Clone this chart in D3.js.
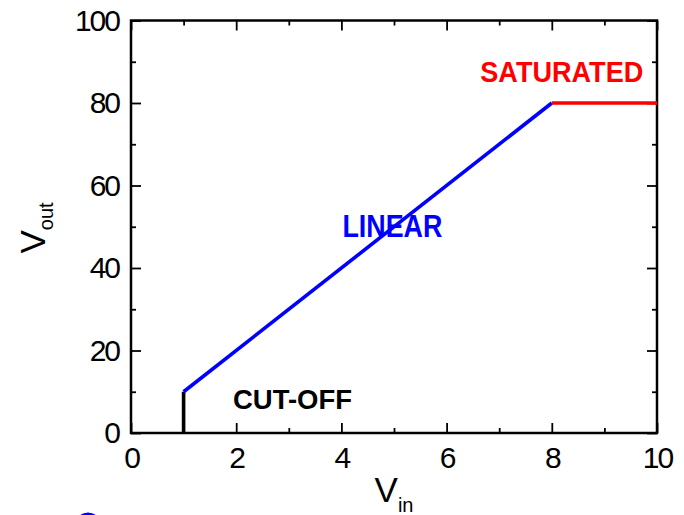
<!DOCTYPE html>
<html>
<head>
<meta charset="utf-8">
<script src="https://cdn.jsdelivr.net/npm/d3@7"></script>
<style>
  body { margin: 0; background: #fff; }
  svg { display: block; }
  text { font-family: "Liberation Sans", Arial, sans-serif; }
</style>
</head>
<body>
<svg width="684" height="515"></svg>
<script>
// transfer curve pieces (Vin, Vout)
const cutoffVin = [1, 1];
const cutoffVout = [0, 10];
const linearVin = [1, 8];
const linearVout = [10, 80];
const saturatedVin = [8, 10];
const saturatedVout = [80, 80];

const xTicks = [0, 2, 4, 6, 8, 10];
const yTicks = [0, 20, 40, 60, 80, 100];
const xMinor = [1, 3, 5, 7, 9];
const yMinor = [10, 30, 50, 70, 90];

const regionNames = ["CUT-OFF", "LINEAR", "SATURATED"];

const svg = d3.select("svg");

const x = d3.scaleLinear().domain([0, 10]).range([131, 657]);
const y = d3.scaleLinear().domain([0, 100]).range([433, 20.5]);

function styleAxis(g, labels) {
    g.select(".domain").remove();
    g.selectAll(".tick line").attr("stroke", "#000").attr("stroke-width", 1.8);
    if (!labels) g.selectAll(".tick text").remove();
    else g.selectAll(".tick text")
        .style("font-size", "30px")
        .style("letter-spacing", "-2px")
        .attr("fill", "#000");
}

// bottom axis with labels
svg.append("g")
    .attr("transform", "translate(0," + y(0) + ")")
    .call(d3.axisBottom(x).tickValues(xTicks).tickSize(-10).tickPadding(14).tickFormat(d3.format("d")))
    .call(g => styleAxis(g, true));
svg.append("g")
    .attr("transform", "translate(0," + y(0) + ")")
    .call(d3.axisBottom(x).tickValues(xMinor).tickSize(-5))
    .call(g => styleAxis(g, false));

// left axis with labels
svg.append("g")
    .attr("transform", "translate(" + x(0) + ",0)")
    .call(d3.axisLeft(y).tickValues(yTicks).tickSize(-10).tickPadding(12).tickFormat(d3.format("d")))
    .call(g => styleAxis(g, true));
svg.append("g")
    .attr("transform", "translate(" + x(0) + ",0)")
    .call(d3.axisLeft(y).tickValues(yMinor).tickSize(-5))
    .call(g => styleAxis(g, false));

// mirrored ticks top and right
svg.append("g")
    .attr("transform", "translate(0," + y(100) + ")")
    .call(d3.axisTop(x).tickValues(xTicks).tickSize(-10))
    .call(g => styleAxis(g, false));
svg.append("g")
    .attr("transform", "translate(0," + y(100) + ")")
    .call(d3.axisTop(x).tickValues(xMinor).tickSize(-5))
    .call(g => styleAxis(g, false));
svg.append("g")
    .attr("transform", "translate(" + x(10) + ",0)")
    .call(d3.axisRight(y).tickValues(yTicks).tickSize(-10))
    .call(g => styleAxis(g, false));
svg.append("g")
    .attr("transform", "translate(" + x(10) + ",0)")
    .call(d3.axisRight(y).tickValues(yMinor).tickSize(-5))
    .call(g => styleAxis(g, false));

// frame
svg.append("rect")
    .attr("x", x(0)).attr("y", y(100))
    .attr("width", x(10) - x(0)).attr("height", y(0) - y(100))
    .attr("fill", "none").attr("stroke", "#000").attr("stroke-width", 2.5);

const line = d3.line().x(d => x(d[0])).y(d => y(d[1]));

const pieces = [
    { vin: cutoffVin, vout: cutoffVout, color: "#000000" },
    { vin: linearVin, vout: linearVout, color: "#0000ff" },
    { vin: saturatedVin, vout: saturatedVout, color: "#ff0000" }
];

pieces.forEach(p => {
    svg.append("path")
        .datum(d3.zip(p.vin, p.vout))
        .attr("d", line)
        .attr("fill", "none")
        .attr("stroke", p.color)
        .attr("stroke-width", 3.6);
});

// region labels
const labelSpots = [
    { at: [3.07, 5.8], size: 27, len: 119 },
    { at: [4.97, 47.5], size: 31, len: 100 },
    { at: [8.19, 85.2], size: 29, len: 163 }
];
regionNames.forEach((name, i) => {
    const s = labelSpots[i];
    svg.append("text")
        .attr("x", x(s.at[0]) - s.len / 2)
        .attr("y", y(s.at[1]))
        .attr("textLength", s.len)
        .attr("lengthAdjust", "spacingAndGlyphs")
        .attr("fill", pieces[i].color)
        .style("font-size", s.size + "px")
        .style("font-weight", "bold")
        .text(name);
});

// axis titles
const xt = svg.append("text")
    .attr("x", 394).attr("y", 502)
    .attr("text-anchor", "middle")
    .style("font-size", "35px");
xt.append("tspan").text("V");
xt.append("tspan").attr("dy", 10).style("font-size", "20px").text("in");

const yt = svg.append("text")
    .attr("transform", "translate(45,228) rotate(-90)")
    .attr("text-anchor", "middle")
    .style("font-size", "35px");
yt.append("tspan").text("V");
yt.append("tspan").attr("dy", 8).style("font-size", "20px").text("out");

// bullet peeking in at the bottom edge
svg.append("circle")
    .attr("cx", 88).attr("cy", 526).attr("r", 12)
    .attr("fill", "none").attr("stroke", "#0000ff").attr("stroke-width", 3);
</script>
</body>
</html>
